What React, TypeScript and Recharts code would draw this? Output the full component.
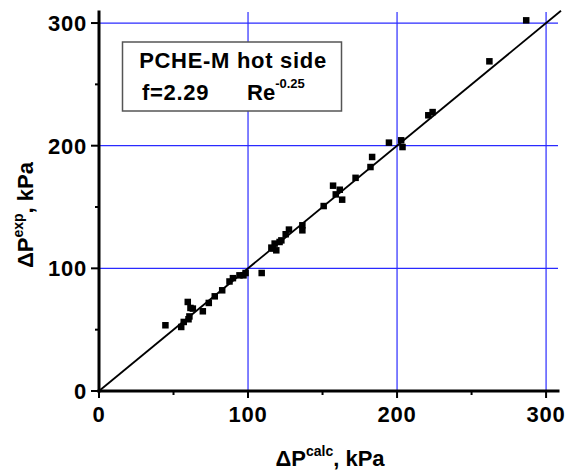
import React from 'react';
import { ScatterChart, Scatter, XAxis, YAxis, ReferenceLine } from 'recharts';

const xCalc = [
  44.4, 55, 56.7, 59.9, 60.5, 59.4, 61.2, 62.8, 69.5, 73.5, 77.5, 82.5, 87.4, 89.7,
  94.1, 96.8, 98.2, 109, 115.5, 116.6, 117.7, 118.8, 121, 122.2, 125.1, 127.3, 136.3,
  136.3, 150.6, 156.9, 158.7, 161.4, 163, 172, 182, 183.1, 194.4, 202.6, 203.5, 220.8,
  223.7, 261.8, 286.5,
];
const yExp = [
  53.8, 52.4, 56.5, 58.7, 61, 72.8, 67.9, 67.4, 65.2, 72, 77.4, 82.3, 89.5, 92.2,
  94.5, 94.5, 96.4, 96.4, 117.1, 116.3, 120.4, 114.9, 121.7, 123, 128, 131.8, 135.3,
  131.2, 151, 167.6, 160.5, 164.3, 156.2, 174, 182.8, 191, 202.7, 204.6, 199.1, 225,
  227.6, 269, 302.4,
];
const axisTicks = [0, 50, 100, 150, 200, 250, 300];
const gridValues = [100, 200, 300];
const xDomain = [0, 308];
const yDomain = [0, 309];
const titleLine = 'PCHE-M hot side';

const data = xCalc.map((x, i) => ({ x, y: yExp[i] }));

const FONT = '"Liberation Sans", Arial, sans-serif';
const GRID = '#2a2aff';

const XTick = (props: any) => {
  const { x, y, payload } = props;
  const v = payload.value;
  const major = v % 100 === 0;
  return (
    <g>
      <line x1={x} x2={x} y1={y} y2={y + (major ? 7 : 4)} stroke="#000" strokeWidth={2} />
      {major && (
        <text x={x} y={y + 31} textAnchor="middle" fontFamily={FONT} fontWeight="bold" fontSize={22} letterSpacing={0.8} fill="#000">
          {v}
        </text>
      )}
    </g>
  );
};

const YTick = (props: any) => {
  const { x, y, payload } = props;
  const v = payload.value;
  const major = v % 100 === 0;
  return (
    <g>
      <line x1={x} x2={x - (major ? 8 : 4)} y1={y} y2={y} stroke="#000" strokeWidth={2} />
      {major && (
        <text x={x - 12} y={y + 8} textAnchor="end" fontFamily={FONT} fontWeight="bold" fontSize={22} letterSpacing={0.8} fill="#000">
          {v}
        </text>
      )}
    </g>
  );
};

const Square = (props: any) => {
  const { cx, cy } = props;
  if (cx == null || cy == null) return null;
  return <rect x={cx - 3} y={cy - 3} width={6.5} height={6.5} fill="#000" />;
};

const XLabel = () => (
  <text x={330} y={466} textAnchor="middle" fontFamily={FONT} fontWeight="bold" fontSize={22} fill="#000">
    <tspan>ΔP</tspan>
    <tspan dy={-10} fontSize={14}>calc</tspan>
    <tspan dy={10}>, kPa</tspan>
  </text>
);

const YLabel = () => (
  <text
    x={0}
    y={0}
    transform="translate(33,215) rotate(-90)"
    textAnchor="middle"
    fontFamily={FONT}
    fontWeight="bold"
    fontSize={22}
    fill="#000"
  >
    <tspan>ΔP</tspan>
    <tspan dy={-10} fontSize={14}>exp</tspan>
    <tspan dy={10}>, kPa</tspan>
  </text>
);

export default function App() {
  return (
    <div style={{ position: 'absolute', left: 0, top: 0, width: 577, height: 471, background: '#fff' }}>
      <ScatterChart width={577} height={471} margin={{ top: 12, right: 19, bottom: 40, left: 39 }}>
        <XAxis
          type="number"
          dataKey="x"
          domain={xDomain}
          ticks={axisTicks}
          interval={0}
          allowDataOverflow
          tickSize={0}
          tickMargin={0}
          tickLine={false}
          tick={<XTick />}
          height={40}
          axisLine={{ stroke: '#000', strokeWidth: 3, strokeLinecap: 'square' }}
          label={<XLabel />}
        />
        <YAxis
          type="number"
          dataKey="y"
          domain={yDomain}
          ticks={axisTicks}
          interval={0}
          allowDataOverflow
          tickSize={0}
          tickMargin={0}
          tickLine={false}
          tick={<YTick />}
          width={60}
          axisLine={{ stroke: '#000', strokeWidth: 3, strokeLinecap: 'square' }}
          label={<YLabel />}
        />
        {gridValues.map((v) => (
          <ReferenceLine key={'gx' + v} x={v} stroke={GRID} strokeWidth={1.2} ifOverflow="visible" />
        ))}
        {gridValues.map((v) => (
          <ReferenceLine key={'gy' + v} y={v} stroke={GRID} strokeWidth={1.2} ifOverflow="visible" />
        ))}
        <ReferenceLine
          segment={[
            { x: 0, y: 0 },
            { x: 310, y: 310 },
          ]}
          stroke="#000"
          strokeWidth={1.8}
          ifOverflow="visible"
        />
        <Scatter data={data} shape={<Square />} isAnimationActive={false} />
      </ScatterChart>
      <svg
        width={577}
        height={471}
        style={{ position: 'absolute', left: 0, top: 0, pointerEvents: 'none' }}
      >
        <rect x={122.5} y={42} width={219} height={69} fill="#fff" stroke="#555" strokeWidth={1.5} />
        <text x={233} y={68} textAnchor="middle" fontFamily={FONT} fontWeight="bold" fontSize={22} letterSpacing={0.7} fill="#000">
          {titleLine}
        </text>
        <text x={142} y={100} fontFamily={FONT} fontWeight="bold" fontSize={22} letterSpacing={0.7} fill="#000">
          f=2.29
        </text>
        <text x={247} y={100} fontFamily={FONT} fontWeight="bold" fontSize={22} fill="#000">
          <tspan>Re</tspan>
          <tspan dy={-12} fontSize={13}>-0.25</tspan>
        </text>
      </svg>
    </div>
  );
}
